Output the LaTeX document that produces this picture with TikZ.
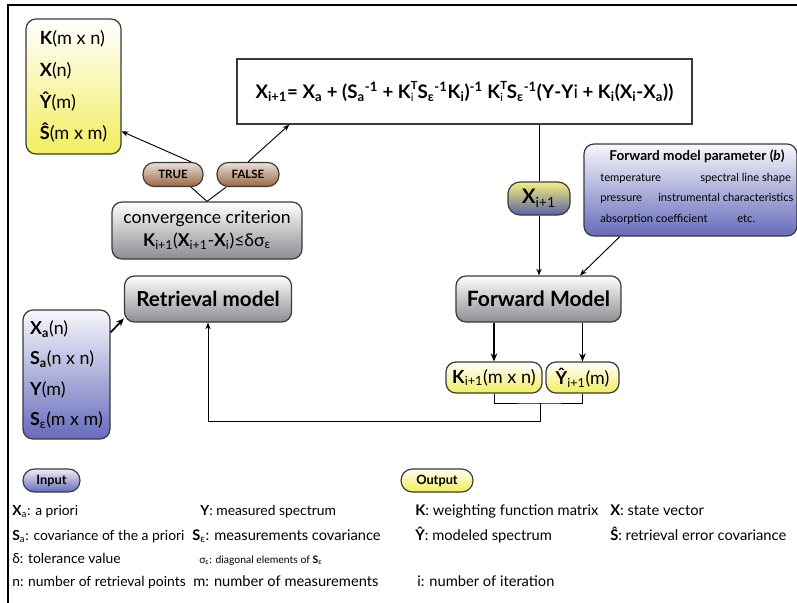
\documentclass[tikz,border=0pt]{standalone}
\usepackage{fontspec}
\setmainfont{Lato}
\usepackage{tikz}
\usetikzlibrary{arrows.meta, calc}
\definecolor{mYellow}{HTML}{F2EE5E}
\definecolor{mBlue}{HTML}{666BBA}
\definecolor{mGray}{HTML}{8C8C92}
\definecolor{mBrown}{HTML}{9A6642}
\definecolor{mEdge}{HTML}{3A3A3A}
\newcommand{\bX}{\textbf{X}}
\newcommand{\bK}{\textbf{K}}
\newcommand{\bS}{\textbf{S}}
\newcommand{\bY}{\textbf{Y}}
\newcommand{\subsup}[2]{{\fontsize{8.4}{9}\selectfont\rlap{\raisebox{-2.2pt}{\mdseries #1}}\raisebox{6.2pt}{#2}}}

\begin{document}
\begin{tikzpicture}[
    x=0.75pt, y=-0.75pt,
    block/.style={draw=mEdge, line width=0.9pt, rounded corners=7.5pt, inner sep=0pt, align=center},
    outbox/.style={block, top color=white, bottom color=mYellow},
    inbox/.style={block, top color=white!95!mBlue, bottom color=mBlue},
    graybox/.style={block, top color=white, bottom color=mGray},
    pill/.style={block, rounded corners=8.5pt, font=\fontsize{8.6}{10}\selectfont\bfseries},
    brownpill/.style={pill, top color=white!80!mBrown, bottom color=mBrown},
    arr/.style={-{Stealth[length=5pt, width=4pt]}, line width=0.7pt},
    thickarr/.style={-{Stealth[length=6pt, width=5pt]}, line width=1.3pt},
    lnk/.style={line width=0.7pt},
    legend/.style={anchor=base west, inner sep=0pt, font=\fontsize{10.4}{12}\selectfont},
    legwide/.style={legend, font=\fontsize{11}{13}\selectfont},
    legsmall/.style={legend, font=\fontsize{7.8}{9}\selectfont},
    fmptext/.style={anchor=base west, inner sep=0pt, font=\fontsize{8.4}{10}\selectfont},
]
    \useasboundingbox (0,0) rectangle (797,603);

    % frame (only top and left edges visible)
    \draw[line width=1.1pt] (8,603) -- (8,5) -- (797,5);

    % output box (top left)
    \node[outbox, minimum width=71.25pt, minimum height=101.25pt,
          font=\fontsize{13.6}{23.7}\selectfont, align=left] (outbox) at (73.5,86.5)
        {\bK(m x n)\\ \bX(n)\\ \textbf{Ŷ}(m)\\ \textbf{Ŝ}(m x m)};

    % iteration equation
    \node[draw=mEdge, line width=1.1pt, fill=white, minimum width=341.25pt, minimum height=48.75pt,
          inner sep=0pt, font=\fontsize{14}{16}\selectfont\bfseries] (eqbox) at (464.5,91.5)
        {\bX\textsubscript{i+1}= \bX\textsubscript{a} + (\bS\textsubscript{a}\textsuperscript{-1} +
         \bK\subsup{i}{T}\bS\textsubscript{ε}\textsuperscript{-1}\bK\textsubscript{i})\textsuperscript{-1}
         \bK\subsup{i}{T}\bS\textsubscript{ε}\textsuperscript{-1}(\bY-\bY\textmd{i} +
         \bK\textsubscript{i}(\bX\textsubscript{i}-\bX\textsubscript{a}))};

    % decision
    \node[brownpill, minimum width=45pt, minimum height=18pt] (truepill) at (173,174.5) {TRUE};
    \node[brownpill, minimum width=46.5pt, minimum height=18pt] (falsepill) at (248,174.5) {FALSE};
    \node[graybox, minimum width=142.5pt, minimum height=42.75pt,
          font=\fontsize{13.2}{17}\selectfont] (convbox) at (207,230.5)
        {convergence criterion\\
         \bK\textsubscript{i+1}(\bX\textsubscript{i+1}-\bX\textsubscript{i})≤δσ\textsubscript{ε}};

    % retrieval side
    \node[graybox, minimum width=125.25pt, minimum height=34.5pt,
          font=\fontsize{15.5}{17}\selectfont\bfseries] (retbox) at (208,299) {Retrieval model};
    \node[inbox, minimum width=65.25pt, minimum height=96.75pt,
          font=\fontsize{13.4}{22.6}\selectfont, align=left] (inbox) at (66.5,374.5)
        {\bX\textsubscript{\textbf{a}}(n)\\ \bS\textsubscript{\textbf{a}}(n x n)\\ \bY(m)\\ \bS\textsubscript{ε}(m x m)};

    % forward side
    \node[block, rounded corners=9pt, top color=mYellow!80!white, bottom color=mBlue!90!black,
          minimum width=46.5pt, minimum height=24.75pt,
          font=\fontsize{15}{17}\selectfont] (xpill) at (539,198.5) {\bX\textsubscript{i+1}};
    \node[inbox, minimum width=159.75pt, minimum height=69pt] (fmpbox) at (690.5,190) {};
    \node[anchor=base, inner sep=0pt, font=\fontsize{10.2}{12}\selectfont\bfseries]
        (fmptitle) at (697,160) {Forward model parameter (\textit{b})};
    \node[fmptext] (fmpa) at (600,181) {temperature};
    \node[fmptext] (fmpb) at (700,181) {spectral line shape};
    \node[fmptext] (fmpc) at (600,201) {pressure};
    \node[fmptext] (fmpd) at (658,201) {instrumental characteristics};
    \node[fmptext] (fmpe) at (600,222) {absorption coefficient};
    \node[fmptext] (fmpf) at (737,222) {etc.};

    \node[graybox, minimum width=123.75pt, minimum height=34.5pt,
          font=\fontsize{15.8}{17}\selectfont\bfseries] (fmbox) at (538.5,299) {Forward Model};
    \node[outbox, minimum width=72pt, minimum height=23.25pt,
          font=\fontsize{13.6}{15}\selectfont] (kbox) at (494,377.5) {\bK\textsubscript{i+1}(m x n)};
    \node[outbox, minimum width=54.75pt, minimum height=23.25pt,
          font=\fontsize{13.4}{15}\selectfont] (ybox) at (582.5,377.5) {\textbf{Ŷ}\textsubscript{i+1}(m)};

    % connectors
    \draw[lnk] (convbox.north) -- (truepill.-35);
    \draw[lnk] (convbox.north) -- (falsepill.-150);
    \draw[arr] (truepill.35) -- (outbox.-43);
    \draw[arr] (falsepill.north) -- ($(eqbox.south west)+(53,0)$);
    \draw[lnk] (xpill.north |- eqbox.south) -- (xpill.north);
    \draw[arr] (xpill.south) -- (xpill.south |- fmbox.north);
    \draw[arr] ($(fmpbox.south west)!0.17!(fmpbox.south east)$) -- ($(fmbox.north west)!0.75!(fmbox.north east)$);
    \draw[thickarr] (kbox.north |- fmbox.south) -- (kbox.north);
    \draw[thickarr] (ybox.north |- fmbox.south) -- (ybox.north);
    \draw[thickarr] ($(inbox.north east)+(0,23)$) -- (retbox.-167);

    % feedback to the retrieval model
    \coordinate (jfb) at (540,403);
    \draw[lnk] (kbox.south) |- (jfb) -| (ybox.south);
    \draw[arr] (jfb) -- ++(0,18) -| (retbox.south);

    % legend
    \node[pill, top color=white!88!mBlue, bottom color=mBlue, minimum width=42.75pt, minimum height=17.25pt,
          font=\fontsize{9.6}{11}\selectfont\bfseries] (inpill) at (51.5,480.5) {Input};
    \node[pill, top color=white!90!mYellow, bottom color=mYellow, minimum width=54pt, minimum height=17.25pt,
          font=\fontsize{9.6}{11}\selectfont\bfseries] (outpill) at (437,480.5) {Output};

    \node[legend] (la) at (12,515) {\bX\textsubscript{a}: a priori};
    \node[legend] (lb) at (12,540) {\bS\textsubscript{a}: covariance of the a priori};
    \node[legend] (lc) at (12,563) {δ: tolerance value};
    \node[legend] (ld) at (12,586) {n: number of retrieval points};
    \node[legend] (le) at (200,515) {\bY: measured spectrum};
    \node[legwide] (lf) at (192,540) {\bS\textsubscript{ε}: measurements covariance};
    \node[legsmall] (lg) at (199,563) {σ\textsubscript{ε}: diagonal elements of \bS\textsubscript{ε}};
    \node[legwide] (lh) at (193,586) {m: number of measurements};
    \node[legwide] (li) at (415,515) {\bK: weighting function matrix};
    \node[legwide] (lj) at (415,540) {\textbf{Ŷ}: modeled spectrum};
    \node[legwide] (lk) at (417,586) {i: number of iteration};
    \node[legwide] (ll) at (610,515) {\bX: state vector};
    \node[legwide] (lm) at (610,540) {\textbf{Ŝ}: retrieval error covariance};
\end{tikzpicture}
\end{document}
